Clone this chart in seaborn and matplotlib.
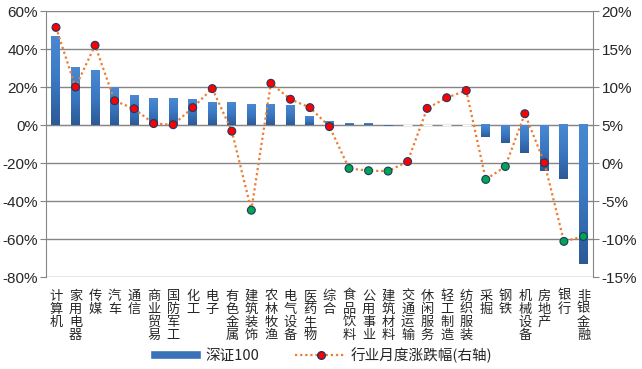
import matplotlib
matplotlib.use("Agg")
import matplotlib.pyplot as plt
import matplotlib.ticker as mticker
from matplotlib.colors import LinearSegmentedColormap
from matplotlib.lines import Line2D
from matplotlib.patches import Patch
import seaborn as sns
import numpy as np
import pandas as pd

# 行业名称
industries = ["计算机", "家用电器", "传媒", "汽车", "通信", "商业贸易", "国防军工",
              "化工", "电子", "有色金属", "建筑装饰", "农林牧渔", "电气设备", "医药生物",
              "综合", "食品饮料", "公用事业", "建筑材料", "交通运输", "休闲服务",
              "轻工制造", "纺织服装", "采掘", "钢铁", "机械设备", "房地产", "银行", "非银金融"]

# 深证100 (左轴, %)
sz100 = [46.8, 30.5, 28.9, 19.8, 15.3, 14.2, 14.2, 13.2, 11.6, 11.6, 10.9, 10.9, 10.5, 4.7,
         1.9, 1.0, 1.0, -0.5, 0.0, 0.0, 0.0, 0.0, -6.5, -9.3, -14.6, -24.0, -28.6, -73.3]

# 行业月度涨跌幅 (右轴, %)
monthly = [17.85, 10.0, 15.5, 8.2, 7.15, 5.2, 5.05, 7.3, 9.8, 4.2, -6.2, 10.5, 8.4, 7.3,
           4.8, -0.7, -1.0, -1.05, 0.2, 7.2, 8.6, 9.55, -2.15, -0.45, 6.5, 0.05, -10.3, -9.65]

sns.set_style("white")
plt.rcParams["font.family"] = ["Liberation Sans", "Noto Sans CJK SC", "DejaVu Sans"]

df = pd.DataFrame({"行业": industries, "深证100": sz100, "涨跌幅": monthly})
df["pos"] = np.arange(len(df))
df["sign"] = np.where(df["涨跌幅"] >= 0, "up", "down")

fig = plt.figure(figsize=(6.42, 3.69), dpi=100)
ax = fig.add_axes([0.072, 0.249, 0.852, 0.721])

bar_blue = "#3A72BA"
grid_gray = "#868686"
sns.barplot(data=df, x="行业", y="深证100", color=bar_blue, width=0.46,
            saturation=1, ax=ax, zorder=3)

# 柱子渐变填充: 上浅下深
grad = LinearSegmentedColormap.from_list("bar", ["#2C5A97", "#3B78C3", "#4A88D2"])
for p in ax.patches:
    x0, y0 = p.get_x(), p.get_y()
    w, h = p.get_width(), p.get_height()
    if h == 0:
        continue
    lo, hi = min(y0, y0 + h), max(y0, y0 + h)
    p.set_facecolor("none")
    p.set_edgecolor("none")
    ax.imshow(np.linspace(0, 1, 64).reshape(-1, 1), cmap=grad, origin="lower",
              extent=[x0, x0 + w, lo, hi], aspect="auto", zorder=3, interpolation="bilinear")

ax.set_ylim(-80, 60)
ax.set_xlim(-0.5, len(df) - 0.5)
ax.set_yticks(np.arange(-80, 61, 20))
ax.yaxis.set_major_formatter(mticker.FuncFormatter(lambda v, p: f"{v:.0f}%"))
ax.grid(axis="y", color=grid_gray, linewidth=1, zorder=0)
ax.set_xlabel("")
ax.set_ylabel("")

# 分类轴在0处，刻度在分类之间
ax.spines["bottom"].set_position(("data", 0))
ax.spines["bottom"].set_color(grid_gray)
ax.spines["top"].set_visible(False)
ax.spines["right"].set_visible(False)
ax.spines["left"].set_color(grid_gray)
ax.set_xticks(np.arange(-0.5, len(df), 1))
ax.set_xticklabels([])
ax.tick_params(axis="x", length=4, color=grid_gray, direction="out")
ax.tick_params(axis="y", length=4, color=grid_gray, direction="out", labelsize=11, pad=2)

# 竖排行业标签放在底部
sec = ax.secondary_xaxis(0)
sec.set_xticks(df["pos"])
sec.set_xticklabels(["\n".join(s) for s in industries], fontsize=9.5,
                    family=["Noto Sans CJK SC"], linespacing=1.0, va="top")
sec.tick_params(length=0, pad=9)
sec.spines["bottom"].set_visible(False)

# 右轴
ax2 = ax.twinx()
sns.lineplot(data=df, x="pos", y="涨跌幅", color="#ED7D31", linestyle=(0, (1, 1.3)),
             linewidth=1.6, ax=ax2, zorder=4)
sns.scatterplot(data=df, x="pos", y="涨跌幅", hue="sign",
                palette={"up": "#FF0000", "down": "#00A650"}, s=32,
                edgecolor="#1F3864", linewidth=0.8, legend=False, ax=ax2, zorder=5)
ax2.set_ylim(-15, 20)
ax2.set_yticks(np.arange(-15, 21, 5))
ax2.yaxis.set_major_formatter(mticker.FuncFormatter(lambda v, p: f"{v:.0f}%"))
ax2.set_xlabel("")
ax2.set_ylabel("")
ax2.set_xlim(-0.5, len(df) - 0.5)
for s in ["top", "left", "bottom"]:
    ax2.spines[s].set_visible(False)
ax2.spines["right"].set_color(grid_gray)
ax2.tick_params(axis="y", length=4, color=grid_gray, direction="out", labelsize=11, pad=2)

handles = [Patch(facecolor=bar_blue, label="深证100"),
           Line2D([0], [0], color="#ED7D31", linestyle=(0, (1, 1.3)), linewidth=1.6,
                  marker="o", markerfacecolor="#FF0000", markeredgecolor="#1F3864",
                  markersize=5.5, label="行业月度涨跌幅(右轴)")]
fig.legend(handles=handles, loc="center", bbox_to_anchor=(0.5, 0.038), ncol=2,
           frameon=False, handlelength=3.5, handleheight=0.6,
           columnspacing=2.5, handletextpad=0.3, prop={"family": ["Noto Sans CJK SC"], "size": 10.5})

fig.savefig("out.png", dpi=100)
